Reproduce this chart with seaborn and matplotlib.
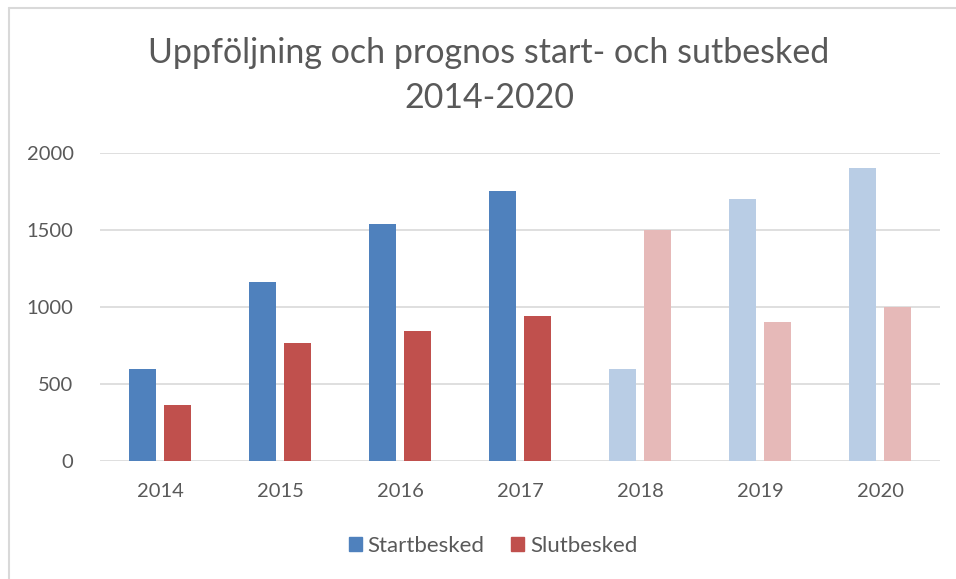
import pandas as pd
import matplotlib
matplotlib.use('Agg')
import matplotlib.pyplot as plt
import seaborn as sns
from matplotlib.lines import Line2D

# data
years = ['2014', '2015', '2016', '2017', '2018', '2019', '2020']
startbesked = [595, 1165, 1537, 1752, 600, 1700, 1900]
slutbesked = [362, 768, 842, 944, 1500, 900, 1000]
prognos = [False, False, False, False, True, True, True]  # 2018- is forecast

series = ['Startbesked', 'Slutbesked']
colors = {'Startbesked': '#4F81BD', 'Slutbesked': '#C0504D'}
light_colors = {'Startbesked': '#B9CDE5', 'Slutbesked': '#E6B9B8'}

df = pd.DataFrame({
    'year': years * 2,
    'serie': ['Startbesked'] * len(years) + ['Slutbesked'] * len(years),
    'antal': startbesked + slutbesked,
})

sns.set_theme(style='white')
plt.rcParams['font.family'] = ['Lato', 'DejaVu Sans']
text_col = '#595959'

fig = plt.figure(figsize=(9.56, 5.79), dpi=100)
ax = fig.add_axes([100 / 956, 1 - 461 / 579, 840 / 956, 308 / 579])

sns.barplot(data=df, x='year', y='antal', hue='serie', hue_order=series,
            palette=colors, width=0.568, gap=0.21, ax=ax, saturation=1,
            legend=True)

# ljusare färg för prognosåren
for cont, name in zip(ax.containers, series):
    for bar, p in zip(cont, prognos):
        if p:
            bar.set_facecolor(light_colors[name])
        bar.set_edgecolor('none')

ax.set_ylim(0, 2000)
ax.set_yticks([0, 500, 1000, 1500, 2000])
ax.set_xlim(-0.5, len(years) - 0.5)
ax.grid(axis='y', color='#D9D9D9', linewidth=1.2)
ax.set_axisbelow(True)
sns.despine(ax=ax, left=True, bottom=True)
ax.set_xlabel('')
ax.set_ylabel('')
ax.tick_params(axis='both', length=0, labelsize=14.5, colors=text_col)
ax.tick_params(axis='y', pad=19)
ax.tick_params(axis='x', pad=16)

# legend at bottom
handles = [plt.Rectangle((0, 0), 1, 1, color=colors[s]) for s in series]
ax.legend_.remove()
fig.legend(handles, series, loc='center', bbox_to_anchor=(0.5157, 1 - 546 / 579),
           ncol=2, frameon=False, fontsize=16, labelcolor=text_col,
           handlelength=0.6, handleheight=0.6, handletextpad=0.25,
           columnspacing=1.2)

# titel
fig.text(0.5115, 1 - 53 / 579, 'Uppföljning och prognos start- och sutbesked',
         ha='center', va='center', fontsize=24.5, color=text_col)
fig.text(0.5115, 1 - 98 / 579, '2014-2020',
         ha='center', va='center', fontsize=24.5, color=text_col)

# ram runt diagrammet
fig.add_artist(Line2D([8.5 / 956, 1], [1 - 7.5 / 579, 1 - 7.5 / 579],
                      transform=fig.transFigure, color='#D9D9D9', lw=1.5))
fig.add_artist(Line2D([8.5 / 956, 8.5 / 956], [0, 1 - 7.5 / 579],
                      transform=fig.transFigure, color='#D9D9D9', lw=1.5))

fig.savefig('out.png', dpi=100, facecolor='white')
